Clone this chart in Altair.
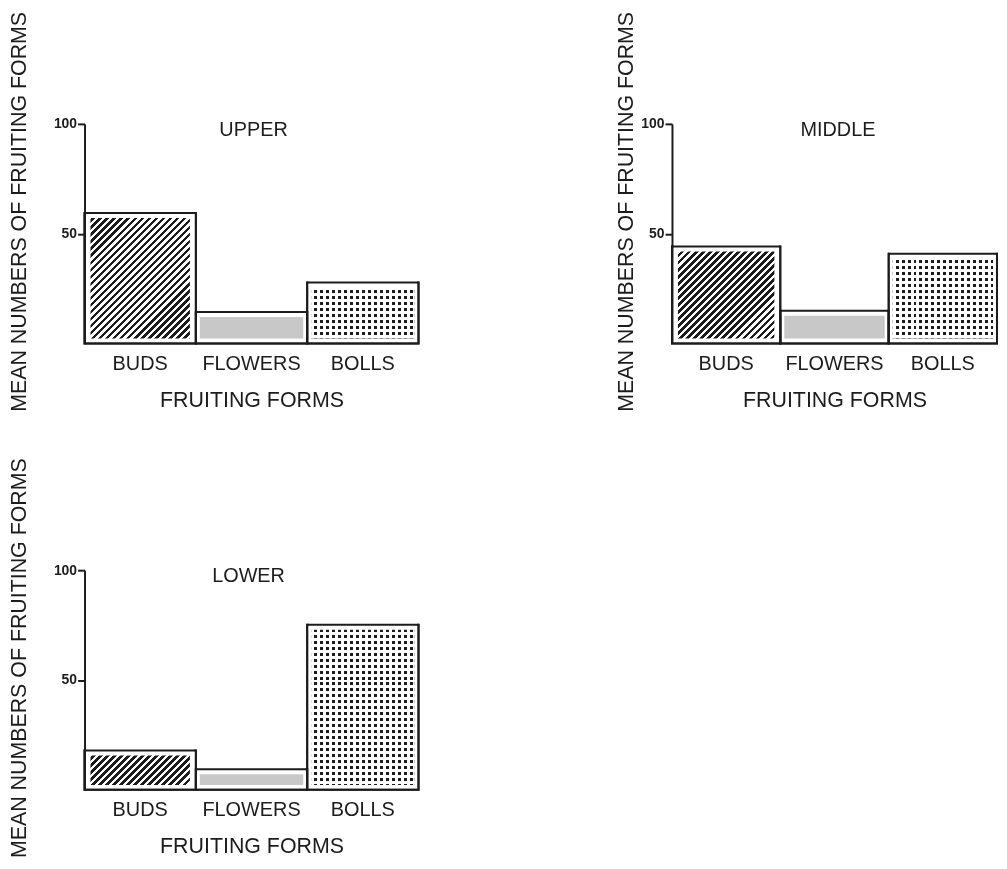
import math
import altair as alt
import pandas as pd

# ---------------- data ----------------
FORMS = ["BUDS", "FLOWERS", "BOLLS"]
PANELS = ["UPPER", "MIDDLE", "LOWER"]
UPPER = [59.4, 14.4, 27.8]
MIDDLE = [44.2, 14.9, 40.9]
LOWER = [17.9, 9.4, 75.2]
Y_TICKS = [50, 100]
Y_MAX = 100
X_TITLE = "FRUITING FORMS"
Y_TITLE = "MEAN NUMBERS OF FRUITING FORMS"

# ---------------- style ----------------
FONT = "Liberation Sans"
INK = "#1c1c1c"
GRAY = "#c8c8c8"
H = 221
INSET = 5
TOP_GAP = 2


def stripe_stops(period, dark_frac, dark, light, phase):
    stops = [{"offset": 0.0, "color": light}]
    t = phase
    while t < 1:
        a = min(1.0, t)
        b = min(1.0, t + period * dark_frac)
        stops.append({"offset": round(a, 6), "color": light})
        stops.append({"offset": round(a, 6), "color": dark})
        stops.append({"offset": round(b, 6), "color": dark})
        stops.append({"offset": round(b, 6), "color": light})
        t += period
    stops.append({"offset": 1.0, "color": light})
    return stops


def hatch_gradient(w, h, p=5.0):
    r = h / w
    period = p * math.sqrt(2) / (w * (1 + r * r))
    return {"gradient": "linear", "x1": 0, "y1": 0, "x2": 1, "y2": r,
            "stops": stripe_stops(period, 0.5, INK, "white", period * 0.3)}


def rows_gradient(h, p=6.0):
    return {"gradient": "linear", "x1": 0, "y1": 0, "x2": 0, "y2": 1,
            "stops": stripe_stops(p / h, 0.5, INK, "white", 3.0 / h)}


def cols_gradient(w, p=6.0):
    return {"gradient": "linear", "x1": 0, "y1": 0, "x2": 1, "y2": 0,
            "stops": stripe_stops(p / w, 0.5, INK, "white", 3.0 / w)}


def panel(name, values, width, title_x, ytitle_x):
    df = pd.DataFrame({"form": FORMS, "value": values})
    band = width / len(FORMS)
    hatch_w = band - 12
    dots_w = band - 8
    ph = H - INSET - TOP_GAP
    xscale = alt.Scale(domain=FORMS, paddingInner=0, paddingOuter=0)
    x_plain = alt.X("form:N", scale=xscale)
    x_axis = alt.X(
        "form:N", scale=xscale,
        axis=alt.Axis(title=X_TITLE, labelAngle=0, domain=False, ticks=False,
                      tickSize=0, labelPadding=20, labelBaseline="middle",
                      labelFontSize=20, labelFont=FONT, labelColor=INK,
                      titleFontSize=21.5, titleFont=FONT, titleColor=INK,
                      titleFontWeight="normal", titleY=57, titleBaseline="middle"))
    y_axis = alt.Y(
        "value:Q", scale=alt.Scale(domain=[0, Y_MAX], nice=False),
        axis=alt.Axis(values=Y_TICKS, title=Y_TITLE, titleFontSize=21.5,
                      titleFontWeight="normal", titleFont=FONT, titleColor=INK,
                      titleAngle=270, titleX=ytitle_x, titleY=88,
                      titleAlign="center", titleBaseline="middle",
                      labelFontSize=14, labelFontWeight="bold", labelFont=FONT,
                      labelColor=INK, labelPadding=1, tickSize=7, tickWidth=2,
                      tickColor=INK, domainColor=INK, domainWidth=2,
                      grid=False, zindex=1))
    base = alt.Chart(df)
    full_y = dict(y=alt.YDatum(Y_MAX), y2=alt.Y2Datum(0))

    outline = base.mark_bar(fillOpacity=0, stroke=INK, strokeWidth=2).encode(
        x=x_axis, y=y_axis)
    hatch = base.transform_filter(alt.datum.form == FORMS[0]).mark_bar(
        fill=hatch_gradient(hatch_w, ph), width=hatch_w,
        yOffset=TOP_GAP, y2Offset=-INSET).encode(x=x_plain, **full_y)
    gray = base.transform_filter(alt.datum.form == FORMS[1]).mark_bar(
        fill=GRAY, width=dots_w,
        yOffset=TOP_GAP, y2Offset=-INSET).encode(x=x_plain, **full_y)
    rows = base.transform_filter(alt.datum.form == FORMS[2]).mark_bar(
        fill=rows_gradient(ph), width=dots_w,
        yOffset=TOP_GAP, y2Offset=-INSET).encode(x=x_plain, **full_y)
    cols = base.transform_filter(alt.datum.form == FORMS[2]).mark_bar(
        fill=cols_gradient(dots_w), width=dots_w,
        yOffset=TOP_GAP, y2Offset=-INSET, blend="lighten").encode(x=x_plain, **full_y)
    cover = base.mark_bar(fill="white", width=band - 3,
                          yOffset=INSET).encode(
        x=x_plain, y=alt.Y("value:Q"), y2=alt.Y2Datum(Y_MAX))
    border = base.mark_bar(fillOpacity=0, stroke=INK, strokeWidth=2).encode(
        x=x_plain, y=alt.Y("value:Q"))
    title = alt.Chart(pd.DataFrame({"panel": [name]})).mark_text(
        fontSize=20, font=FONT, color=INK, align="center", baseline="middle"
    ).encode(x=alt.value(title_x), y=alt.value(6), text="panel:N")

    return alt.layer(outline, hatch, gray, rows, cols, cover, border, title).properties(
        width=width, height=H)


upper = panel(PANELS[0], UPPER, 336, 170, -65)
middle = panel(PANELS[1], MIDDLE, 327, 167, -46)
lower = panel(PANELS[2], LOWER, 336, 165, -65)

chart = alt.vconcat(
    alt.hconcat(upper, middle, spacing=195),
    lower, spacing=45,
).properties(padding=0).configure(font=FONT).configure_view(stroke="transparent")

chart.save("out.html", embed_options={"renderer": "svg", "actions": False})
